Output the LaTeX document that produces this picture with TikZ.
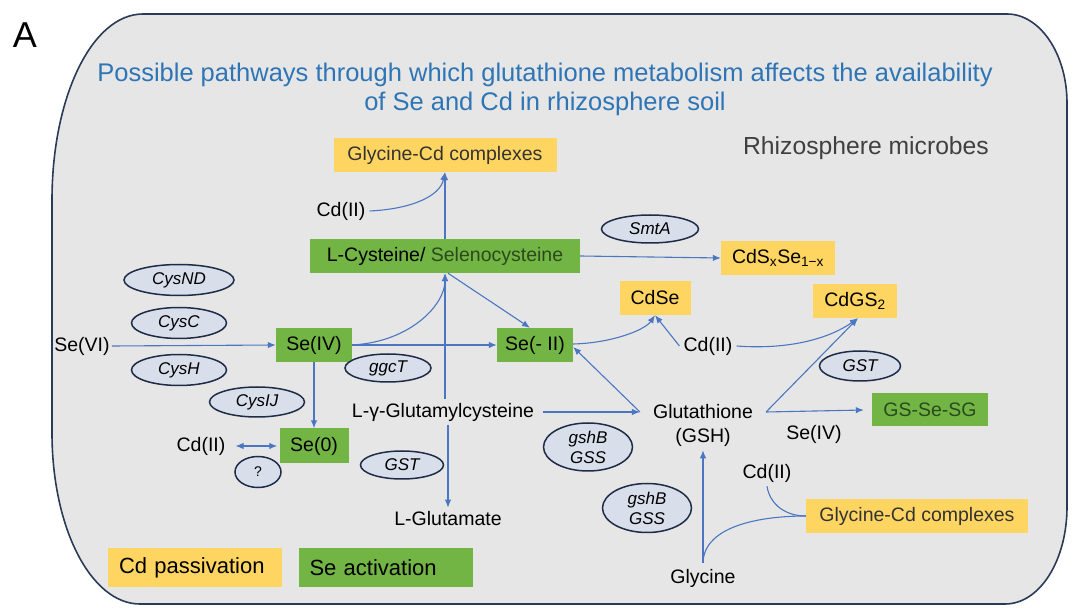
\documentclass[tikz,border=0pt]{standalone}
\usepackage{fontspec}
\setmainfont{Liberation Sans}
\usetikzlibrary{arrows.meta, shapes.geometric}
\definecolor{bggray}{HTML}{E7E6E6}
\definecolor{framec}{HTML}{2B3A56}
\definecolor{ttlblue}{HTML}{2E75B6}
\definecolor{cdyel}{HTML}{FFD561}
\definecolor{segrn}{HTML}{72B545}
\definecolor{lnblue}{HTML}{4A76C2}
\definecolor{elfill}{HTML}{D8DFEB}
\definecolor{elline}{HTML}{1E2C48}
\definecolor{dkgrn}{HTML}{2B4A1C}
\tikzset{
  txt/.style={font=\fontsize{19.5}{23}\selectfont, inner sep=4pt},
  cdbox/.style={fill=cdyel, inner sep=0pt, minimum height=34pt, font=\fontsize{19.5}{23}\selectfont},
  sebox/.style={fill=segrn, inner sep=0pt, minimum height=34pt, font=\fontsize{19.5}{23}\selectfont},
  enz/.style={ellipse, draw=elline, line width=1.5pt, fill=elfill, inner sep=0pt, align=center,
    font=\fontsize{17}{20}\selectfont\itshape},
  keybox/.style={inner xsep=11pt, minimum height=39pt, text width=152pt, align=left,
    font=\fontsize{22}{26}\selectfont},
  flow/.style={draw=lnblue, line width=1.1pt, -{Latex[length=8pt,width=6.5pt]}},
  twoway/.style={draw=lnblue, line width=1.1pt, {Latex[length=8pt,width=6.5pt]}-{Latex[length=8pt,width=6.5pt]}},
  link/.style={draw=lnblue, line width=1.1pt}
}
\begin{document}
\begin{tikzpicture}[x=1pt, y=-1pt]
\useasboundingbox (0,0) rectangle (1080,609);
\draw[framec, fill=bggray, line width=1.6pt] (143,14) -- (1007,14)
  .. controls (1040,14) and (1067,54) .. (1067,103) -- (1067,507)
  .. controls (1067,560) and (1040,604) .. (1005,604) -- (140,604)
  .. controls (91,604) and (52,528) .. (52,433) -- (52,200)
  .. controls (52,97) and (92,14) .. (143,14) -- cycle;
\node[font=\fontsize{36}{36}\selectfont, inner sep=0pt] (panel) at (25,35) {A};
\node[font=\fontsize{25.5}{29}\selectfont, text=ttlblue, align=center] (title) at (545,89)
  {Possible pathways through which glutathione metabolism affects the availability\\of Se and Cd in rhizosphere soil};
\node[font=\fontsize{24.7}{28}\selectfont, text=black!75] (microbes) at (866,148) {Rhizosphere microbes};

\node[cdbox, minimum width=223pt, text=black!80] (g1) at (445,155) {Glycine-Cd complexes};
\node[txt] (cda) at (341,211) {Cd(II)};
\node[sebox, minimum width=270pt] (cys) at (445,256) {L-Cysteine/ \textcolor{dkgrn}{Selenocysteine}};
\node[enz, minimum width=97pt, minimum height=28pt] (smta) at (650,229) {SmtA};
\node[cdbox, minimum width=114pt] (cdsx) at (778,258) {CdS\textsubscript{x}Se\textsubscript{1−x}};

\node[enz, minimum width=110pt, minimum height=31pt] (cysnd) at (179,280) {CysND};
\node[enz, minimum width=95pt, minimum height=31pt] (cysc) at (179,323) {CysC};
\node[enz, minimum width=95pt, minimum height=31pt] (cysh) at (179,370) {CysH};
\node[enz, minimum width=95pt, minimum height=30pt] (cysij) at (257,402) {CysIJ};
\node[txt, inner xsep=2pt] (sevi) at (82,346) {Se(VI)};
\node[sebox, minimum width=76pt] (seiv) at (314,345) {Se(IV)};
\node[sebox, minimum width=76pt] (seii) at (535,345) {Se(- II)};
\node[enz, minimum width=86pt, minimum height=28pt] (ggct) at (388,368) {ggcT};
\node[cdbox, minimum width=71pt] (cdse) at (655,298) {CdSe};
\node[txt] (cdb) at (708,346) {Cd(II)};
\node[cdbox, minimum width=84pt] (cdgs) at (855,301) {CdGS\textsubscript{2}};
\node[enz, minimum width=81pt, minimum height=30pt] (gstr) at (860,366) {GST};

\node[txt, inner xsep=9pt] (glu) at (443,412) {L-γ-Glutamylcysteine};
\node[txt, inner xsep=13pt] (gsh) at (703,412) {Glutathione};
\node[txt] (gshb) at (703,437) {(GSH)};
\node[sebox, minimum width=116pt, minimum height=33pt, text=dkgrn] (gsse) at (930,410) {GS-Se-SG};
\node[txt] (seivb) at (814,434) {Se(IV)};

\node[sebox, minimum width=69pt, minimum height=35pt] (se0) at (314,446) {Se(0)};
\node[txt, inner xsep=10pt] (cdc) at (201,446) {Cd(II)};
\node[enz, minimum width=46pt, minimum height=31pt, font=\fontsize{14}{16}\selectfont] (qm) at (258,472) {?};
\node[enz, minimum width=83pt, minimum height=28pt] (gstl) at (402,465) {GST};
\node[txt] (glut) at (448,519) {L-Glutamate};
\node[enz, minimum width=89pt, minimum height=48pt] (gshba) at (588,447) {gshB\\GSS};
\node[enz, minimum width=89pt, minimum height=49pt] (gshbb) at (647,508) {gshB\\GSS};
\node[txt, inner ysep=6pt] (gly) at (703,578) {Glycine};
\node[txt] (cdd) at (767,473) {Cd(II)};
\node[cdbox, minimum width=222pt, text=black!80] (g2) at (917,516) {Glycine-Cd complexes};

\node[keybox, fill=cdyel] (keycd) at (195,568) {Cd passivation};
\node[keybox, fill=segrn] (keyse) at (385.5,568) {Se activation};

\draw[flow] (cda.east) .. controls (412,209) and (440,196) .. (g1.south);
\draw[flow] (cys.north) -- (g1.south);
\draw[flow] (cys.east) -- (cdsx.west);
\draw[flow] (sevi.east) -- (seiv.west);
\draw[flow] (seiv.east) -- (seii.west);
\draw[flow] (seiv.east) .. controls (410,342) and (445,305) .. (cys.south);
\draw[flow] (cys.south |- glu.north) -- (cys.south);
\draw[flow] ([xshift=3pt]cys.south) -- ([xshift=-5pt]seii.north);
\draw[flow] ([yshift=1pt]seii.east) .. controls (612,343) and (645,330) .. (cdse.south);
\draw[flow] (gsh.west) -- ([yshift=-2pt]seii.east);
\draw[flow] (cdb.west) -- (cdse.south);
\draw[flow] (cdb.east) .. controls (790,350) and (830,338) .. ([xshift=3pt]cdgs.south);
\draw[flow] (gsh.east) -- ([xshift=3pt]cdgs.south);
\draw[flow] (gsh.east) -- ([xshift=-8pt]gsse.west);
\draw[flow] (glu.east) -- (gsh.west);
\draw[flow] (glu.south -| glut.north) -- (glut.north);
\draw[flow] (seiv.south) -- (se0.north);
\draw[twoway] (cdc.east) -- ([xshift=-2pt]se0.west);
\draw[flow] (gly.north) -- (gshb.south);
\draw[link] (gly.north) .. controls (704,526) and (760,516) .. (g2.west);
\draw[link] (cdd.south) .. controls (770,505) and (786,516) .. (g2.west);
\end{tikzpicture}
\end{document}
